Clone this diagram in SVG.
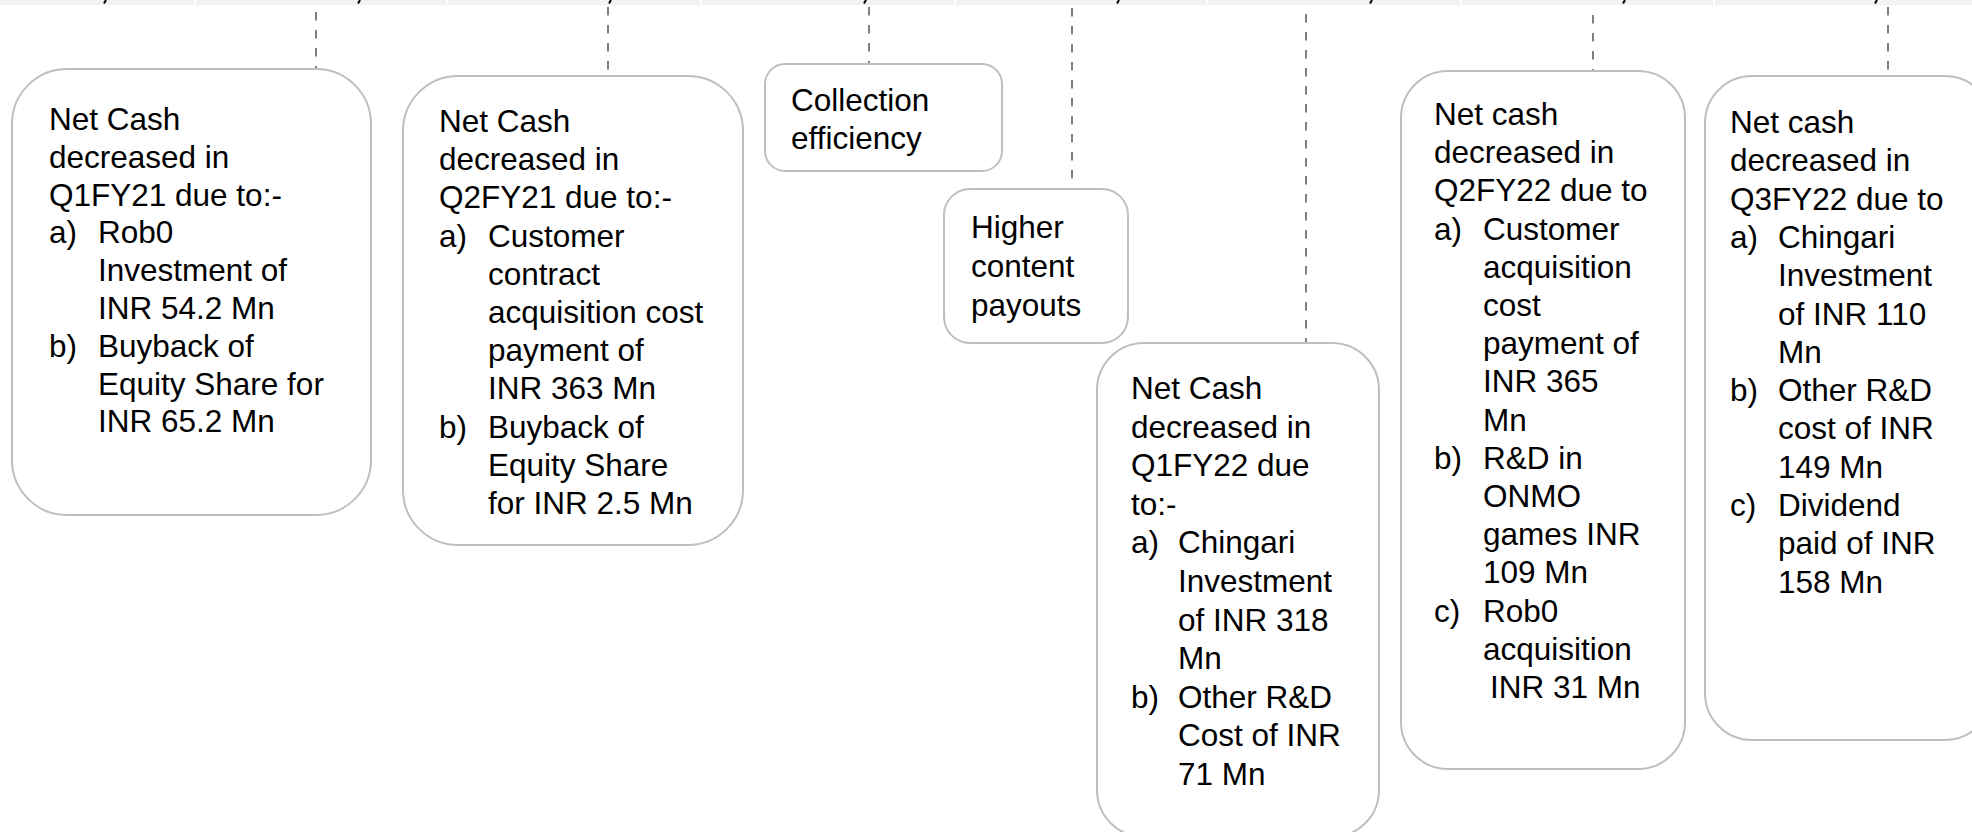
<svg xmlns="http://www.w3.org/2000/svg" width="1972" height="832" viewBox="0 0 1972 832">
<style>
.box{fill:#ffffff;stroke:#bfbfbf;stroke-width:2}
.t{font-family:"Liberation Sans",Arial,sans-serif;font-size:31.5px;fill:#000000}
.conn{stroke:#7f7f7f;stroke-width:2;stroke-dasharray:8.5 9.5;fill:none}
</style>
<rect x="0" y="0" width="1972" height="832" fill="#ffffff"/>
<g id="header">
<rect x="0" y="0" width="1972" height="5" fill="#f2f2f2"/>
<path d="M195 0V5M447 0V5M701 0V5M955 0V5M1207 0V5M1461 0V5M1714 0V5" stroke="#ffffff" stroke-width="2"/>
<path d="M106 0L104 3.5M360 0L358 3.5M611 0L609 3.5M866 0L864 3.5M1119 0L1117 3.5M1372 0L1370 3.5M1625 0L1623 3.5M1877 0L1875 3.5" stroke="#000000" stroke-width="2"/>
</g>
<g id="connectors">
<line class="conn" x1="316" y1="12" x2="316" y2="70"/>
<line class="conn" x1="608" y1="7" x2="608" y2="76"/>
<line class="conn" x1="869" y1="7" x2="869" y2="64"/>
<line class="conn" x1="1072" y1="8" x2="1072" y2="189"/>
<line class="conn" x1="1306" y1="14" x2="1306" y2="343"/>
<line class="conn" x1="1593" y1="15" x2="1593" y2="71"/>
<line class="conn" x1="1888" y1="7" x2="1888" y2="76"/>
</g>
<g id="q1fy21">
<rect class="box" x="12" y="69" width="359" height="446" rx="55"/>
<text class="t">
<tspan x="49" y="130">Net Cash</tspan>
<tspan x="49" y="167.8">decreased in</tspan>
<tspan x="49" y="205.6">Q1FY21 due to:-</tspan>
<tspan x="49" y="243.4">a)</tspan><tspan x="98" y="243.4">Rob0</tspan>
<tspan x="98" y="281.2">Investment of</tspan>
<tspan x="98" y="319">INR 54.2 Mn</tspan>
<tspan x="49" y="356.8">b)</tspan><tspan x="98" y="356.8">Buyback of</tspan>
<tspan x="98" y="394.6">Equity Share for</tspan>
<tspan x="98" y="432.4">INR 65.2 Mn</tspan>
</text>
</g>
<g id="q2fy21">
<rect class="box" x="403" y="76" width="340" height="469" rx="55"/>
<text class="t">
<tspan x="439" y="132">Net Cash</tspan>
<tspan x="439" y="170.2">decreased in</tspan>
<tspan x="439" y="208.4">Q2FY21 due to:-</tspan>
<tspan x="439" y="246.6">a)</tspan><tspan x="488" y="246.6">Customer</tspan>
<tspan x="488" y="284.8">contract</tspan>
<tspan x="488" y="323">acquisition cost</tspan>
<tspan x="488" y="361.2">payment of</tspan>
<tspan x="488" y="399.4">INR 363 Mn</tspan>
<tspan x="439" y="437.6">b)</tspan><tspan x="488" y="437.6">Buyback of</tspan>
<tspan x="488" y="475.8">Equity Share</tspan>
<tspan x="488" y="514">for INR 2.5 Mn</tspan>
</text>
</g>
<g id="collection">
<rect class="box" x="765" y="64" width="237" height="107" rx="20"/>
<text class="t">
<tspan x="791" y="111">Collection</tspan>
<tspan x="791" y="149">efficiency</tspan>
</text>
</g>
<g id="payouts">
<rect class="box" x="944" y="189" width="184" height="154" rx="26"/>
<text class="t">
<tspan x="971" y="238">Higher</tspan>
<tspan x="971" y="277">content</tspan>
<tspan x="971" y="316">payouts</tspan>
</text>
</g>
<g id="q1fy22">
<rect class="box" x="1097" y="343" width="282" height="494" rx="47"/>
<text class="t">
<tspan x="1131" y="399">Net Cash</tspan>
<tspan x="1131" y="437.6">decreased in</tspan>
<tspan x="1131" y="476.2">Q1FY22 due</tspan>
<tspan x="1131" y="514.8">to:-</tspan>
<tspan x="1131" y="553.4">a)</tspan><tspan x="1178" y="553.4">Chingari</tspan>
<tspan x="1178" y="592">Investment</tspan>
<tspan x="1178" y="630.6">of INR 318</tspan>
<tspan x="1178" y="669.2">Mn</tspan>
<tspan x="1131" y="707.8">b)</tspan><tspan x="1178" y="707.8">Other R&amp;D</tspan>
<tspan x="1178" y="746.4">Cost of INR</tspan>
<tspan x="1178" y="785">71 Mn</tspan>
</text>
</g>
<g id="q2fy22">
<rect class="box" x="1401" y="71" width="284" height="698" rx="47"/>
<text class="t">
<tspan x="1434" y="125">Net cash</tspan>
<tspan x="1434" y="163.2">decreased in</tspan>
<tspan x="1434" y="201.4">Q2FY22 due to</tspan>
<tspan x="1434" y="239.6">a)</tspan><tspan x="1483" y="239.6">Customer</tspan>
<tspan x="1483" y="277.8">acquisition</tspan>
<tspan x="1483" y="316">cost</tspan>
<tspan x="1483" y="354.2">payment of</tspan>
<tspan x="1483" y="392.4">INR 365</tspan>
<tspan x="1483" y="430.6">Mn</tspan>
<tspan x="1434" y="468.8">b)</tspan><tspan x="1483" y="468.8">R&amp;D in</tspan>
<tspan x="1483" y="507">ONMO</tspan>
<tspan x="1483" y="545.2">games INR</tspan>
<tspan x="1483" y="583.4">109 Mn</tspan>
<tspan x="1434" y="621.6">c)</tspan><tspan x="1483" y="621.6">Rob0</tspan>
<tspan x="1483" y="659.8">acquisition</tspan>
<tspan x="1490" y="698">INR 31 Mn</tspan>
</text>
</g>
<g id="q3fy22">
<rect class="box" x="1705" y="76" width="287" height="664" rx="47"/>
<text class="t">
<tspan x="1730" y="133">Net cash</tspan>
<tspan x="1730" y="171.3">decreased in</tspan>
<tspan x="1730" y="209.6">Q3FY22 due to</tspan>
<tspan x="1730" y="247.9">a)</tspan><tspan x="1778" y="247.9">Chingari</tspan>
<tspan x="1778" y="286.2">Investment</tspan>
<tspan x="1778" y="324.5">of INR 110</tspan>
<tspan x="1778" y="362.8">Mn</tspan>
<tspan x="1730" y="401.1">b)</tspan><tspan x="1778" y="401.1">Other R&amp;D</tspan>
<tspan x="1778" y="439.4">cost of INR</tspan>
<tspan x="1778" y="477.7">149 Mn</tspan>
<tspan x="1730" y="516">c)</tspan><tspan x="1778" y="516">Dividend</tspan>
<tspan x="1778" y="554.3">paid of INR</tspan>
<tspan x="1778" y="592.6">158 Mn</tspan>
</text>
</g>
</svg>
